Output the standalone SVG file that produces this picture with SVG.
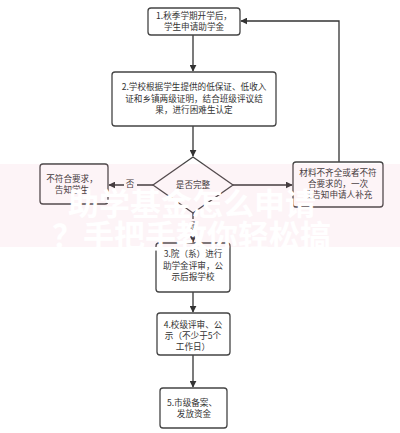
<svg xmlns="http://www.w3.org/2000/svg" width="400" height="433" viewBox="0 0 400 433">
<defs>
<marker id="arr" viewBox="0 0 10 10" refX="9" refY="5" markerWidth="7" markerHeight="7" orient="auto" markerUnits="userSpaceOnUse">
<path d="M0,0 L10,5 L0,10 z" fill="#333"/>
</marker>
</defs>
<style>
.box{fill:#fff;stroke:#444;stroke-width:1.3}
.t{font-family:"Noto Sans CJK SC","Liberation Sans",sans-serif;font-size:8.6px;fill:#333;text-anchor:middle}
.ln{fill:none;stroke:#333;stroke-width:1.3}
.wm{font-family:"Noto Sans CJK SC",sans-serif;font-size:31px;font-weight:bold;fill:#fff;text-anchor:start}
</style>
<rect width="400" height="433" fill="#fff"/>
<g id="connectors">
<line class="ln" x1="193" y1="35" x2="193" y2="71" marker-end="url(#arr)"/>
<line class="ln" x1="193" y1="126" x2="193" y2="156" marker-end="url(#arr)"/>
<line class="ln" x1="153" y1="185" x2="109" y2="185" marker-end="url(#arr)"/>
<line class="ln" x1="233" y1="185" x2="292" y2="185" marker-end="url(#arr)"/>
<polyline class="ln" points="339,162 339,21 241,21" marker-end="url(#arr)"/>
<line class="ln" x1="193" y1="213" x2="193" y2="242" marker-end="url(#arr)"/>
<line class="ln" x1="193" y1="292" x2="193" y2="312" marker-end="url(#arr)"/>
<line class="ln" x1="193" y1="355" x2="193" y2="387" marker-end="url(#arr)"/>
<rect x="124" y="177" width="13" height="13" fill="#fff"/>
<text class="t" x="130" y="187">否</text>
<rect x="187" y="219" width="13" height="13" fill="#fff"/>
<text class="t" x="193" y="229">是</text>
</g>
<g id="n1">
<rect class="box" x="148" y="8" width="92" height="27" rx="3"/>
<text class="t" x="194" y="19">1.秋季学期开学后，</text>
<text class="t" x="194" y="30">学生申请助学金</text>
</g>
<g id="n2">
<rect class="box" x="112" y="72" width="164" height="54" rx="3"/>
<text class="t" x="194" y="90">2.学校根据学生提供的低保证、低收入</text>
<text class="t" x="194" y="102">证和乡镇两级证明，结合班级评议结</text>
<text class="t" x="194" y="113">果，进行困难生认定</text>
</g>
<g id="decision">
<polygon class="box" points="193,157 233,185 193,213 153,185"/>
<text class="t" x="193" y="188">是否完整</text>
</g>
<g id="left">
<rect class="box" x="40" y="164" width="68" height="40" rx="3"/>
<text class="t" x="72" y="182">不符合要求，</text>
<text class="t" x="72" y="193">告知学生</text>
</g>
<g id="right">
<rect class="box" x="293" y="162" width="90" height="45" rx="3"/>
<text class="t" x="338" y="176">材料不齐全或者不符</text>
<text class="t" x="338" y="187">合要求的，一次</text>
<text class="t" x="338" y="198">性告知申请人补充</text>
</g>
<g id="n3">
<rect class="box" x="156" y="243" width="74" height="49" rx="3"/>
<text class="t" x="193" y="257">3.院（系）进行</text>
<text class="t" x="193" y="269">助学金评审，公</text>
<text class="t" x="193" y="280">示后报学校</text>
</g>
<g id="n4">
<rect class="box" x="157" y="313" width="73" height="42" rx="3"/>
<text class="t" x="193" y="328">4.校级评审、公</text>
<text class="t" x="193" y="339">示（不少于5个</text>
<text class="t" x="193" y="350">工作日）</text>
</g>
<g id="n5">
<rect class="box" x="160" y="388" width="67" height="40" rx="3"/>
<text class="t" x="192" y="406">5.市级备案、</text>
<text class="t" x="194" y="417">发放资金</text>
</g>
<g id="watermark">
<rect x="0" y="164" width="400" height="83" fill="#e890b0" opacity="0.1"/>
<text class="wm" x="68" y="215">助学基金怎么申请</text>
<text class="wm" x="52" y="247">？手把手教你轻松搞</text>
</g>
</svg>
